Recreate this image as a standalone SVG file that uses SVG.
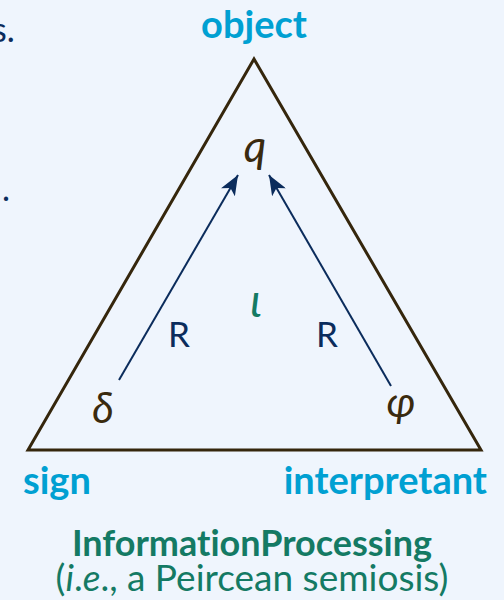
<svg xmlns="http://www.w3.org/2000/svg" width="504" height="600" viewBox="0 0 504 600">
<style>
text{font-variant-ligatures:none}
.lbl{font-family:Lato,"Noto Sans",sans-serif;font-weight:700;fill:#00a0d2;font-size:38px}
.math{font-family:Lato,"Noto Sans",sans-serif;fill:#3a2a0e;font-style:italic}
.r{font-family:Lato,"Noto Sans",sans-serif;fill:#0b2c5c;font-size:35px}
.cap{font-family:Lato,"Noto Sans",sans-serif;fill:#147a64}
</style>
<defs>
<marker id="ah2" viewBox="0 0 20 16" refX="20" refY="8" markerWidth="20" markerHeight="16" markerUnits="userSpaceOnUse" orient="auto">
<path d="M0,0 L20,8 L0,16 L5,8 Z" fill="#0b2c5c"/>
</marker>
</defs>
<rect width="504" height="600" fill="#eff5fd"/>
<text x="-8" y="42" font-family="Lato,sans-serif" font-size="34" fill="#0b2c5c">s.</text>
<text x="2" y="201" font-family="Lato,sans-serif" font-size="34" fill="#0b2c5c">.</text>
<g id="triangle">
<polygon points="254,59 28,450 481,450" fill="none" stroke="#35260c" stroke-width="3" stroke-linejoin="miter"/>
</g>
<g id="connectors">
<line x1="119" y1="380" x2="238" y2="175" stroke="#0b2c5c" stroke-width="2" marker-end="url(#ah2)"/>
<line x1="391" y1="386" x2="269" y2="175" stroke="#0b2c5c" stroke-width="2" marker-end="url(#ah2)"/>
<text class="r" x="179" y="347" text-anchor="middle">R</text>
<text class="r" x="327" y="347" text-anchor="middle">R</text>
</g>
<g id="object"><text class="lbl" x="254" y="38" text-anchor="middle">object</text></g>
<g id="sign"><text class="lbl" x="23" y="494">sign</text></g>
<g id="interpretant"><text class="lbl" x="487" y="494" text-anchor="end">interpretant</text></g>
<g id="q"><text class="math" x="255" y="162" font-size="44" text-anchor="middle">q</text></g>
<g id="iota"><text x="256" y="317" font-family="Lato,sans-serif" font-style="italic" font-size="46" fill="#147a64" text-anchor="middle">ι</text></g>
<g id="delta"><text class="math" x="103" y="423" font-size="42" text-anchor="middle" font-style="normal">δ</text></g>
<g id="phi"><text class="math" x="401" y="417" font-size="42" text-anchor="middle">φ</text></g>
<g id="caption">
<text class="cap" x="252" y="556" font-size="36" text-anchor="middle" font-weight="700">InformationProcessing</text>
<text class="cap" x="252" y="591" font-size="37" text-anchor="middle">(<tspan font-style="italic">i</tspan>.<tspan font-style="italic">e</tspan>., a Peircean semiosis)</text>
</g>
</svg>
